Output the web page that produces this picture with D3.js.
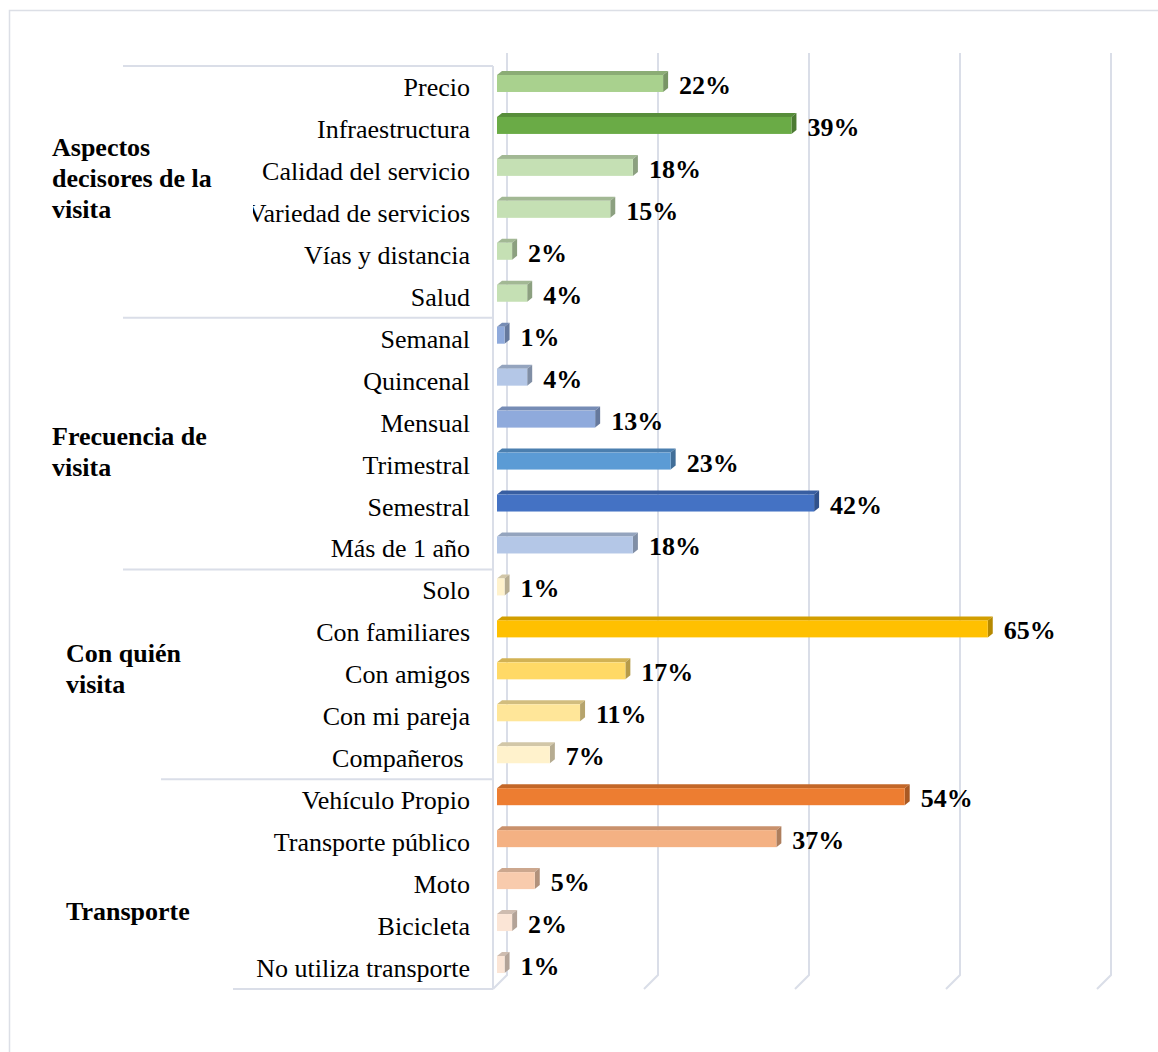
<!DOCTYPE html>
<html>
<head>
<meta charset="utf-8">
<script src="https://cdn.jsdelivr.net/npm/d3@7"></script>
<style>
  html, body { margin: 0; padding: 0; background: #fff; }
  svg { display: block; }
  text { font-family: "Liberation Serif", "Times New Roman", serif; fill: #000; }
</style>
</head>
<body>
<div id="chart"></div>
<script>
// ---------- DATA ----------
const categories = [
  "Precio", "Infraestructura", "Calidad del servicio", "Variedad de servicios", "Vías y distancia", "Salud",
  "Semanal", "Quincenal", "Mensual", "Trimestral", "Semestral", "Más de 1 año",
  "Solo", "Con familiares", "Con amigos", "Con mi pareja", "Compañeros ",
  "Vehículo Propio", "Transporte público", "Moto", "Bicicleta", "No utiliza transporte"
];
const values = [22, 39, 18, 15, 2, 4, 1, 4, 13, 23, 42, 18, 1, 65, 17, 11, 7, 54, 37, 5, 2, 1];
const colors = [
  "#a9d18e", "#6aab46", "#c5e0b4", "#c5e0b4", "#c5e0b4", "#c5e0b4",
  "#8faadc", "#b4c7e7", "#8faadc", "#5b9bd5", "#4472c4", "#b4c7e7",
  "#fff2cc", "#ffc000", "#ffd966", "#ffe699", "#fff2cc",
  "#ed7d31", "#f4b183", "#f8cbad", "#fbe5d6", "#fbe5d6"
];
const groupNames = [
  ["Aspectos", "decisores de la", "visita"],
  ["Frecuencia de", "visita"],
  ["Con quién", "visita"],
  ["Transporte"]
];
const groupStarts = ["Precio", "Semanal", "Solo", "Vehículo Propio"];
const groupEnds = ["Salud", "Más de 1 año", "Compañeros ", "No utiliza transporte"];
const tickValues = [0, 20, 40, 60, 80];

// ---------- LAYOUT ----------
const W = 1158, H = 1052;
const svg = d3.select("#chart").append("svg").attr("width", W).attr("height", H);

const y = d3.scaleBand().domain(categories).range([66, 989]).padding(0);
const xFront = d3.scaleLinear().domain([0, 80]).range([497, 1101]);  // bar front faces
const xBack = d3.scaleLinear().domain([0, 80]).range([507, 1111]);   // back wall gridlines
const gridCol = "#dadee8";

// outer frame
svg.append("path").attr("d", `M9.5,${H} L9.5,10.5 L${W},10.5`)
  .attr("fill", "none").attr("stroke", "#dcdfe6").attr("stroke-width", 1.5);

// gridlines (back wall + floor slant)
const floorDx = 14, backBottom = 975, frontBottom = 989;
svg.append("g").selectAll("path").data(tickValues).join("path")
  .attr("d", d => `M${xBack(d)},53 L${xBack(d)},${backBottom} L${xBack(d) - floorDx},${frontBottom}`)
  .attr("fill", "none").attr("stroke", gridCol).attr("stroke-width", 2);

// left axis line (front)
svg.append("line").attr("x1", 493).attr("x2", 493).attr("y1", 66).attr("y2", frontBottom)
  .attr("stroke", gridCol).attr("stroke-width", 2);

// group separators
const sepStarts = [123, 123, 123, 161];
const sepG = svg.append("g");
groupStarts.forEach((c, i) => {
  sepG.append("line").attr("x1", sepStarts[i]).attr("x2", 493)
    .attr("y1", y(c)).attr("y2", y(c)).attr("stroke", gridCol).attr("stroke-width", 2);
});
sepG.append("line").attr("x1", 233).attr("x2", 493)
  .attr("y1", y.range()[1]).attr("y2", y.range()[1]).attr("stroke", gridCol).attr("stroke-width", 2);

// bars (3D)
const dx = 5, dy = 4;
const bars = svg.append("g");
categories.forEach((c, i) => {
  const v = values[i];
  const cy = y(c) + y.bandwidth() / 2;
  const x0 = xFront(0), x1 = xFront(v);
  const t = cy - 12, b = cy + 5;
  const base = d3.color(colors[i]);
  const topCol = d3.color(colors[i]).darker(0.55);
  const sideCol = d3.color(colors[i]).darker(0.95);
  // top face
  bars.append("path")
    .attr("d", `M${x0},${t} L${x0 + dx},${t - dy} L${x1 + dx},${t - dy} L${x1},${t} Z`)
    .attr("fill", topCol);
  // side face
  bars.append("path")
    .attr("d", `M${x1},${t} L${x1 + dx},${t - dy} L${x1 + dx},${b - dy} L${x1},${b} Z`)
    .attr("fill", sideCol);
  // front face
  bars.append("rect").attr("x", x0).attr("y", t).attr("width", x1 - x0).attr("height", b - t)
    .attr("fill", base);
  // value label
  svg.append("text").attr("x", x1 + dx + 11).attr("y", cy + 7)
    .attr("font-size", 26).attr("font-weight", "bold").text(v + "%");
});

// category labels (clipped on the left)
svg.append("clipPath").attr("id", "labclip")
  .append("rect").attr("x", 253).attr("y", 0).attr("width", 300).attr("height", H);
svg.append("g").attr("clip-path", "url(#labclip)")
  .selectAll("text").data(categories).join("text")
  .attr("x", 470).attr("y", d => y(d) + y.bandwidth() / 2 + 9)
  .attr("text-anchor", "end").attr("font-size", 26)
  .style("white-space", "pre").attr("xml:space", "preserve")
  .text(d => d);

// group labels
const groupX = [52, 52, 66, 66];
const groupFirstBaseline = [156, 445, 662, 920];
groupNames.forEach((lines, i) => {
  const tx = svg.append("text").attr("font-size", 26).attr("font-weight", "bold");
  lines.forEach((ln, j) => {
    tx.append("tspan").attr("x", groupX[i]).attr("y", groupFirstBaseline[i] + j * 31).text(ln);
  });
});
</script>
</body>
</html>
